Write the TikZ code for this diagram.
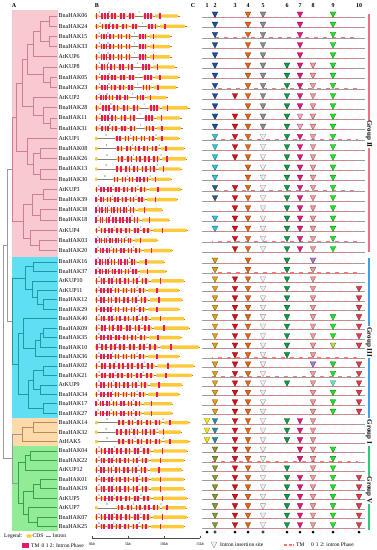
\documentclass[tikz,border=0pt]{standalone}
\usepackage{fontspec}
\setmainfont{Liberation Serif}
\definecolor{bgII}{HTML}{F9C9D1}
\definecolor{bgIII}{HTML}{5FE0F2}
\definecolor{bgI}{HTML}{FCDAAB}
\definecolor{bgV}{HTML}{92EB95}
\definecolor{trII}{HTML}{CF7F8C}
\definecolor{trIII}{HTML}{2198A8}
\definecolor{trI}{HTML}{C0894E}
\definecolor{trV}{HTML}{35A150}
\definecolor{trunk}{HTML}{9A9A9A}
\definecolor{cdsc}{HTML}{FFC93C}
\definecolor{tmc}{HTML}{E6166E}
\definecolor{cY}{HTML}{F2E21A}
\definecolor{cB}{HTML}{1F4E9A}
\definecolor{cC}{HTML}{2EC4D0}
\definecolor{cT}{HTML}{24606E}
\definecolor{cK}{HTML}{D9A21B}
\definecolor{cE}{HTML}{2F8A9C}
\definecolor{cU}{HTML}{7E9B2E}
\definecolor{cR}{HTML}{D5121B}
\definecolor{cO}{HTML}{E2661A}
\definecolor{cG}{HTML}{8C8C8C}
\definecolor{cD}{HTML}{13954A}
\definecolor{cM}{HTML}{E0197D}
\definecolor{cL}{HTML}{F4A9C8}
\definecolor{cS}{HTML}{EE9A9A}
\definecolor{cP}{HTML}{A679D6}
\definecolor{cV}{HTML}{25E02A}
\definecolor{cW}{HTML}{B8D848}
\definecolor{cQ}{HTML}{6DDBC0}
\definecolor{cX}{HTML}{E03A4A}
\definecolor{gII}{HTML}{F07080}
\definecolor{gIII}{HTML}{3BA0E6}
\definecolor{gI}{HTML}{F5A623}
\definecolor{gV}{HTML}{2ECC71}
\tikzset{
  lbl/.style={anchor=west,inner sep=0pt,font=\fontsize{6}{7}\selectfont},
  hdr/.style={inner sep=0pt,font=\bfseries\fontsize{6}{7}\selectfont},
  grp/.style={rotate=-90,fill=white,inner sep=1pt,font=\bfseries\fontsize{7}{8}\selectfont},
  leg/.style={anchor=west,inner sep=0pt,font=\fontsize{5.5}{6}\selectfont},
  ph/.style={inner sep=0pt,text=black!75,font=\fontsize{3}{3}\selectfont},
  intr/.style={draw=black!50,line width=0.4pt},
  cdsf/.style={fill=cdsc,rounded corners=0.8pt},
  tmf/.style={fill=tmc},
  cline/.style={draw=black!38,line width=0.8pt},
  tmd/.style={draw=red!55!white,line width=1.1pt,dash pattern=on 4pt off 5pt},
  tri/.style={line width=0.3pt,line join=round},
  tY/.style={fill=cY,draw=cY!55!black},
  tB/.style={fill=cB,draw=cB!60!black},
  tC/.style={fill=cC,draw=cC!55!black},
  tT/.style={fill=cT,draw=cT!60!black},
  tK/.style={fill=cK,draw=cK!55!black},
  tE/.style={fill=cE,draw=cE!55!black},
  tU/.style={fill=cU,draw=cU!55!black},
  tR/.style={fill=cR,draw=cR!60!black},
  tO/.style={fill=cO,draw=cO!60!black},
  tG/.style={fill=cG,draw=cG!60!black},
  tH/.style={fill=black!6,draw=black!45},
  tD/.style={fill=cD,draw=cD!60!black},
  tM/.style={fill=cM,draw=cM!60!black},
  tL/.style={fill=cL,draw=cL!55!black},
  tS/.style={fill=cS,draw=cS!55!black},
  tP/.style={fill=cP,draw=cP!55!black},
  tV/.style={fill=cV,draw=cV!55!black},
  tW/.style={fill=cW,draw=cW!55!black},
  tQ/.style={fill=cQ,draw=cQ!55!black},
  tX/.style={fill=cX,draw=cX!60!black},
}
\newcommand{\bn}[6]{\draw[#1] (#3,#4) -- (#2,#4) -- (#2,#6) -- (#5,#6);}
\newcommand{\tmplA}{%
 \draw[intr] (0,0) -- (85,0);
 \foreach \a/\b in {0/4,5.5/13.5,15/22.5,24/31.5,33/40,48/58,60/83}{\fill[cdsf] (\a,-1.7) rectangle (\b,1.7);}
 \foreach \a in {0.6,6.2,9.2,12,16,19.4,25,28.3,34,37.3,49,52,55,64}{\fill[tmf] (\a,-2.7) rectangle ++(1.6,5.4);}
 \node[ph] (p\rid a) at (4.7,-3) {2};
 \node[ph] (p\rid b) at (14.2,-3) {0};
 \node[ph] (p\rid c) at (44,-3) {1};
}
\newcommand{\tmplB}{%
 \draw[intr] (0,0) -- (85,0);
 \foreach \a/\b in {0/3,4.5/10,11.5/17,18.5/25,26.5/33,34.5/41,43/51,53/84}{\fill[cdsf] (\a,-1.7) rectangle (\b,1.7);}
 \foreach \a in {0.5,5.2,8,12.2,15,19.5,22.8,27.5,30.8,35.5,38.8,44,47.5,61}{\fill[tmf] (\a,-2.7) rectangle ++(1.6,5.4);}
 \node[ph] (p\rid a) at (3.8,-3) {0};
 \node[ph] (p\rid b) at (17.8,-3) {1};
 \node[ph] (p\rid c) at (42,-3) {2};
}
\newcommand{\tmplC}{%
 \draw[intr] (0,0) -- (85,0);
 \foreach \a/\b in {0/2.5,20/27,28.5/35,36.5/43,44.5/51,52.5/60,62/84}{\fill[cdsf] (\a,-1.7) rectangle (\b,1.7);}
 \foreach \a in {21,24.3,29.5,32.8,37.5,40.8,45.5,48.8,53.5,57,66}{\fill[tmf] (\a,-2.7) rectangle ++(1.6,5.4);}
 \node[ph] (p\rid a) at (11,-3) {0};
 \node[ph] (p\rid b) at (35.8,-3) {1};
 \node[ph] (p\rid c) at (61,-3) {2};
}
\newcommand{\generow}[5]{%
 \pgfmathsetmacro\ry{ifthenelse(#1<24,16+10.2*#1,262+9.45*(#1-24))}%
 \pgfmathsetmacro\ly{\ry+1.5}%
 \node[lbl] (g#1) at (58.5,\ry) {#2};%
 \def\rid{#1}%
 \begin{scope}[shift={(95,\ry)},xscale={(#3-95)/85}]\csname tmpl#4\endcsname\end{scope}%
 \draw[cline] (202,\ly) -- (365,\ly);%
 \pgfmathsetmacro\dph{mod(#1*3,9)}%
 \draw[tmd,dash phase=\dph pt] (212,\ly) -- (358,\ly);%
 \foreach \c/\s in {#5}{%
   \pgfmathsetmacro\xx{{207,215,235,248,263,287,300,313,333,359}[\c-1]}%
   \path[tri,\s] (\xx-2.8,\ly-5.6) -- (\xx+2.8,\ly-5.6) -- (\xx,\ly) -- cycle;}%
}
\begin{document}
\begin{tikzpicture}[x=1pt,y=-1pt]
\useasboundingbox (0,0) rectangle (376,550);
\fill[white] (0,0) rectangle (376,550);
% backgrounds
\fill[bgII] (11.7,10) rectangle (58.3,256.5);
\fill[bgIII] (11.7,256.5) rectangle (58.3,418);
\fill[bgI] (11.7,418) rectangle (58.3,446);
\fill[bgV] (11.7,446) rectangle (58.3,531);
% headers
\node[hdr] (hA) at (14,6) {A};
\node[hdr] (hB) at (97,6) {B};
\node[hdr] (hC) at (193,6) {C};
\foreach \c/\xx in {1/207,2/215,3/235,4/248,5/263,6/287,7/300,8/313,9/333,10/359}{\node[hdr] (col\c) at (\xx,6) {\c};}
% tree
\begin{scope}[line width=0.7pt]
\bn{trII}{49}{57}{16}{57}{26.2}
\bn{trII}{49}{57}{36.4}{57}{46.6}
\bn{trII}{40}{49}{21.1}{49}{41.5}
\bn{trII}{33}{40}{31.3}{57}{56.8}
\bn{trII}{50}{57}{77.2}{57}{87.4}
\bn{trII}{43}{57}{67}{50}{82.3}
\bn{trII}{27}{33}{44.05}{43}{74.65}
\bn{trII}{50}{57}{118}{57}{128.2}
\bn{trII}{43}{57}{107.8}{50}{123.1}
\bn{trII}{33}{57}{97.6}{43}{115.45}
\bn{trII}{22}{27}{59.35}{33}{106.53}
\bn{trII}{40}{57}{148.6}{57}{158.8}
\bn{trII}{40}{57}{169}{57}{179.2}
\bn{trII}{33}{40}{153.7}{40}{174.1}
\bn{trII}{27}{57}{138.4}{33}{163.9}
\bn{trII}{43}{57}{189.4}{57}{199.6}
\bn{trII}{40}{57}{209.8}{57}{220}
\bn{trII}{32}{43}{194.5}{40}{214.9}
\bn{trII}{39}{57}{240.4}{57}{250.6}
\bn{trII}{30}{57}{230.2}{39}{245.5}
\bn{trII}{23}{32}{204.7}{30}{237.85}
\bn{trII}{16}{22}{82.94}{27}{151.15}
\bn{trII}{12}{16}{117.05}{23}{221.28}
\bn{trIII}{33}{57}{262}{57}{271.45}
\bn{trIII}{43}{57}{299.8}{57}{309.25}
\bn{trIII}{37}{57}{290.35}{43}{304.53}
\bn{trIII}{32}{57}{280.9}{37}{297.44}
\bn{trIII}{25}{33}{266.73}{32}{289.17}
\bn{trIII}{43}{57}{328.15}{57}{337.6}
\bn{trIII}{40}{43}{332.88}{57}{347.05}
\bn{trIII}{35}{40}{339.96}{57}{356.5}
\bn{trIII}{23}{57}{318.7}{35}{348.23}
\bn{trIII}{43}{57}{365.95}{57}{375.4}
\bn{trIII}{40}{57}{384.85}{57}{394.3}
\bn{trIII}{33}{43}{370.68}{40}{389.58}
\bn{trIII}{43}{57}{403.75}{57}{413.2}
\bn{trIII}{28}{33}{380.13}{43}{408.48}
\bn{trIII}{18}{23}{333.47}{28}{394.3}
\bn{trIII}{12}{25}{277.95}{18}{363.88}
\bn{trI}{33}{57}{422.65}{57}{432.1}
\bn{trI}{22}{33}{427.38}{57}{441.55}
\bn{trV}{30}{57}{451}{57}{460.45}
\bn{trV}{25}{30}{455.73}{57}{469.9}
\bn{trV}{40}{57}{479.35}{57}{488.8}
\bn{trV}{33}{40}{484.08}{57}{498.25}
\bn{trV}{37}{57}{517.15}{57}{526.6}
\bn{trV}{28}{57}{507.7}{37}{521.88}
\bn{trV}{23}{33}{491.16}{28}{514.79}
\bn{trV}{18}{25}{462.81}{23}{502.98}
\bn{trunk}{12}{22}{434.46}{18}{482.89}
\bn{trunk}{7}{12}{169.16}{12}{320.92}
\bn{trunk}{3.3}{7}{245.04}{12}{458.68}
\end{scope}
% rows
\generow{0}{BnaHAK06}{180}{A}{2/tB,4/tO,5/tG,7/tM,9/tV}
\generow{1}{BnaHAK24}{187}{A}{2/tB,4/tO,5/tG,7/tM,9/tV}
\generow{2}{BnaHAK15}{172}{A}{2/tB,4/tO,5/tG,7/tM,9/tV}
\generow{3}{BnaHAK33}{172}{A}{2/tB,4/tO,5/tG,7/tM,9/tV}
\generow{4}{AtKUP6}{172}{A}{2/tB,4/tO,5/tG,7/tM,9/tV}
\generow{5}{AtKUP8}{177}{A}{2/tB,4/tO,5/tG,6/tD,7/tM,8/tS,9/tV}
\generow{6}{BnaHAK05}{180}{A}{2/tB,4/tO,5/tG,6/tD,7/tM,8/tS,9/tV}
\generow{7}{BnaHAK23}{178}{A}{2/tB,4/tO,5/tG,6/tD,7/tM,8/tS,9/tV}
\generow{8}{AtKUP2}{168}{A}{2/tB,3/tR,4/tO,5/tG,6/tD,7/tM,8/tS,9/tV}
\generow{9}{BnaHAK28}{190}{A}{2/tB,4/tO,5/tG,6/tD,7/tM,8/tS,9/tV}
\generow{10}{BnaHAK11}{182}{A}{2/tB,3/tR,4/tO,5/tG,6/tD,7/tL,8/tS,9/tV}
\generow{11}{BnaHAK31}{183}{A}{2/tB,3/tR,4/tO,5/tG,6/tD,7/tL,8/tS,9/tV}
\generow{12}{AtKUP1}{180}{C}{2/tC,3/tR,4/tO,5/tH,6/tD,7/tM,8/tS,9/tV}
\generow{13}{BnaHAK08}{185}{C}{2/tC,3/tR,4/tO,5/tH,6/tD,7/tM,8/tS,9/tV}
\generow{14}{BnaHAK26}{187}{C}{2/tC,3/tR,4/tO,5/tH,6/tD,7/tM,8/tS,9/tV}
\generow{15}{BnaHAK13}{182}{C}{2/tC,4/tO,5/tH,6/tD,7/tM,8/tS,9/tV}
\generow{16}{BnaHAK30}{172}{C}{2/tC,4/tO,5/tH,6/tD,7/tM,8/tS,9/tV}
\generow{17}{AtKUP3}{182}{B}{2/tT,3/tR,4/tO,5/tH,6/tD,7/tM,8/tS,9/tV}
\generow{18}{BnaHAK39}{178}{B}{2/tT,3/tR,4/tO,5/tH,6/tD,7/tM,8/tS,9/tV}
\generow{19}{BnaHAK38}{163}{B}{3/tR,4/tO,5/tH,6/tD,7/tM,8/tS,9/tV}
\generow{20}{BnaHAK18}{170}{B}{2/tC,3/tR,4/tO,5/tH,6/tD,7/tM,8/tS,9/tV}
\generow{21}{AtKUP4}{188}{B}{2/tC,3/tR,4/tO,5/tH,6/tD,7/tM,8/tS,9/tV}
\generow{22}{BnaHAK03}{158}{B}{3/tR,4/tO,5/tH,6/tD,7/tM,8/tS,9/tV}
\generow{23}{BnaHAK20}{173}{B}{3/tR,4/tO,5/tH,6/tD,7/tM,8/tS,9/tV}
\generow{24}{BnaHAK16}{165}{B}{2/tK,4/tO,6/tD,8/tP}
\generow{25}{BnaHAK37}{167}{B}{2/tK,4/tO,6/tD,8/tS}
\generow{26}{AtKUP10}{185}{B}{2/tK,3/tR,4/tO,5/tH,6/tD,8/tS}
\generow{27}{AtKUP11}{180}{B}{2/tK,3/tR,4/tO,5/tH,6/tD,8/tS,10/tX}
\generow{28}{BnaHAK12}{183}{B}{2/tK,3/tR,4/tO,5/tH,6/tD,8/tS,10/tX}
\generow{29}{BnaHAK29}{180}{B}{2/tK,3/tR,4/tO,5/tH,6/tD,8/tS,10/tX}
\generow{30}{BnaHAK40}{185}{B}{2/tK,3/tR,4/tO,5/tH,6/tD,8/tS,9/tV,10/tX}
\generow{31}{BnaHAK09}{190}{B}{2/tK,3/tR,4/tO,5/tH,6/tD,8/tS,9/tV,10/tX}
\generow{32}{BnaHAK35}{182}{B}{2/tK,3/tR,4/tO,5/tH,6/tD,8/tS,9/tV,10/tX}
\generow{33}{BnaHAK10}{200}{B}{2/tK,3/tR,4/tO,5/tH,6/tD,8/tS,9/tW,10/tX}
\generow{34}{BnaHAK36}{180}{B}{3/tR,4/tO,5/tH,6/tD,8/tS}
\generow{35}{BnaHAK02}{195}{B}{2/tK,3/tR,4/tO,5/tH,8/tP,9/tV,10/tX}
\generow{36}{BnaHAK21}{193}{B}{2/tK,3/tR,4/tO,5/tH,8/tS,9/tV,10/tX}
\generow{37}{AtKUP9}{183}{B}{2/tK,3/tR,4/tO,5/tH,6/tD,8/tS,9/tQ,10/tX}
\generow{38}{BnaHAK34}{180}{B}{2/tK,3/tR,4/tO,5/tH,8/tS,9/tV,10/tX}
\generow{39}{BnaHAK17}{173}{B}{2/tK,3/tR,4/tO,5/tH,8/tS,9/tV,10/tX}
\generow{40}{BnaHAK27}{173}{B}{2/tK,3/tR,4/tO,5/tH,8/tS,9/tV,10/tX}
\generow{41}{BnaHAK14}{190}{C}{1/tY,2/tE,3/tR,4/tO,5/tH,6/tD,7/tM,8/tS}
\generow{42}{BnaHAK32}{182}{C}{1/tY,2/tE,3/tR,4/tO,5/tH,6/tD,7/tM,8/tS}
\generow{43}{AtHAK5}{190}{C}{1/tY,2/tE,3/tR,4/tO,5/tH,6/tD,7/tM,8/tS}
\generow{44}{BnaHAK04}{188}{B}{2/tU,3/tR,4/tO,5/tH,7/tM,8/tS,9/tV}
\generow{45}{BnaHAK22}{185}{B}{2/tU,3/tR,4/tO,5/tH,7/tM,8/tS,9/tV}
\generow{46}{AtKUP12}{183}{B}{2/tU,3/tR,4/tO,5/tH,6/tD,8/tS,9/tV}
\generow{47}{BnaHAK01}{185}{B}{2/tU,3/tR,4/tO,5/tH,6/tD,7/tM,8/tS,9/tV,10/tX}
\generow{48}{BnaHAK19}{185}{B}{2/tU,3/tR,4/tO,5/tH,6/tD,7/tM,8/tS,9/tV,10/tX}
\generow{49}{AtKUP5}{188}{B}{2/tU,3/tR,4/tO,5/tH,6/tD,7/tM,8/tS,9/tV,10/tX}
\generow{50}{AtKUP7}{187}{C}{2/tU,3/tR,4/tO,5/tH,6/tD,7/tM,8/tS,9/tV,10/tX}
\generow{51}{BnaHAK07}{188}{B}{2/tU,3/tR,4/tO,5/tH,6/tD,7/tM,8/tS,9/tV,10/tX}
\generow{52}{BnaHAK25}{185}{B}{2/tU,3/tR,4/tO,5/tH,6/tD,7/tM,8/tS,9/tV,10/tX}
% bottom dots
\foreach \xx in {207,235,248,287,300,313,333,359}{\fill[black] (\xx,532) circle (1.5pt);}
\foreach \xx in {215,263}{\draw[black,line width=0.5pt,fill=white] (\xx,532) circle (1.3pt);}
% group bars
\draw[gII,line width=1.2pt] (369,14) -- (369,252);
\node[grp] (grII) at (369,134) {Group II};
\draw[gIII,line width=1.2pt] (369,258) -- (369,418);
\node[grp] (grIII) at (369,342) {Group III};
\draw[gI,line width=1.2pt] (369,418.5) -- (369,445);
\node[grp] (grI) at (369,432) {Group I};
\draw[gV,line width=1.2pt] (369,446) -- (369,530);
\node[grp] (grV) at (369,490) {Group V};
% scale axis
\draw[black!70,line width=0.4pt] (92,538) -- (200,538);
\foreach \xx/\t in {92/0kb,128/5kb,164/10kb,200/15kb}{\draw[black!70,line width=0.4pt] (\xx,538) -- (\xx,536);
 \node[inner sep=0pt,font=\fontsize{4}{4}\selectfont] (ax\xx) at (\xx,544) {\t};}
% legend left
\node[leg] (lg) at (4,536) {Legend:};
\fill[cdsf] (26.5,534.3) rectangle (31.5,537.7);
\node[leg] (lcds) at (32.5,536) {CDS};
\draw[intr] (46,536) -- (51,536);
\node[leg] (lint) at (52.5,536) {Intron};
\fill[tmf] (22,543.2) rectangle (28.5,547.6);
\node[leg] (ltm) at (31,545.5) {TM};
\node[leg] (lph) at (41.5,545.5) {0 1 2: Intron Phase};
% legend right
\path[tri,tH] (211,542) -- (217,542) -- (214,548) -- cycle;
\node[leg] (lins) at (220,545) {Intron insertion site};
\draw[tmd,dash pattern=on 3pt off 1.5pt] (284,545) -- (294,545);
\node[leg] (ltm2) at (296,545) {TM};
\node[leg] (lph2) at (311,545) {0\,\,1\,\,2: intron Phase};
\end{tikzpicture}
\end{document}
